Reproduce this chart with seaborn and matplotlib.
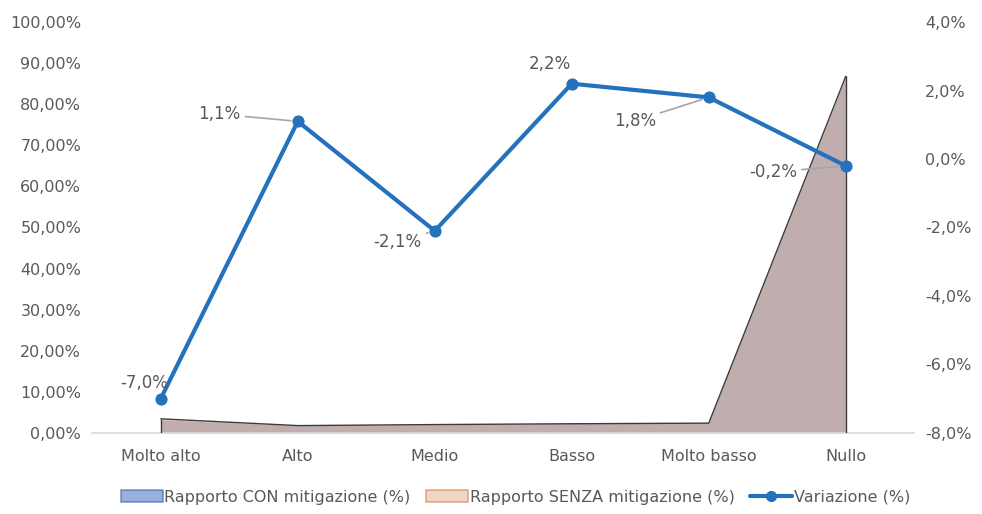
import matplotlib
matplotlib.use("Agg")
import matplotlib.pyplot as plt
from matplotlib.patches import Patch
from matplotlib.lines import Line2D
from matplotlib.ticker import FuncFormatter, MultipleLocator
import seaborn as sns
import pandas as pd
import numpy as np

# Data
categorie = ["Molto alto", "Alto", "Medio", "Basso", "Molto basso", "Nullo"]
rapporto_con = [3.16, 1.77, 1.96, 2.25, 2.39, 86.63]      # % (left axis)
rapporto_senza = [3.40, 1.75, 2.00, 2.20, 2.35, 86.80]    # % (left axis)
variazione = [-7.0, 1.1, -2.1, 2.2, 1.8, -0.2]            # % (right axis)

df = pd.DataFrame({
    "pos": np.arange(len(categorie)),
    "categoria": categorie,
    "con": rapporto_con,
    "senza": rapporto_senza,
    "var": variazione,
})

sns.set_theme(style="white")
plt.rcParams["font.family"] = ["DejaVu Sans"]

TXT = "#595959"
BLUE_LINE = "#2472bd"
CON_COL = "#4472c4"
SENZA_COL = "#e0a67e"

fig = plt.figure(figsize=(9.82, 5.14), dpi=100)
ax = fig.add_axes([0.094, 0.158, 0.837, 0.799])
ax2 = ax.twinx()

# Areas (left axis)
ax.fill_between(df["pos"], 0, df["con"], color=CON_COL, alpha=0.5, linewidth=0, zorder=1)
ax.fill_between(df["pos"], 0, df["senza"], color=SENZA_COL, alpha=0.5, linewidth=0, zorder=2)
sns.lineplot(x="pos", y="senza", data=df, ax=ax, color="#3a3a3a", linewidth=1.0, zorder=3)
ax.vlines([df["pos"].iloc[0], df["pos"].iloc[-1]], 0,
          [df["senza"].iloc[0], df["senza"].iloc[-1]], color="#3a3a3a", linewidth=1.0, zorder=3)

ax.set_xlim(-0.5, len(categorie) - 0.5)
ax.set_ylim(0, 100)
ax.yaxis.set_major_locator(MultipleLocator(10))
ax.yaxis.set_major_formatter(FuncFormatter(lambda v, p: f"{v:.2f}%".replace(".", ",")))
ax.set_xticks(df["pos"])
ax.set_xticklabels(categorie)
ax.set_xlabel("")
ax.set_ylabel("")

# Variation line (right axis)
sns.lineplot(x="pos", y="var", data=df, ax=ax2, color=BLUE_LINE, linewidth=3,
             marker="o", markersize=8, markeredgecolor=BLUE_LINE, zorder=5)
ax2.set_ylim(-8, 4)
ax2.yaxis.set_major_locator(MultipleLocator(2))
ax2.yaxis.set_major_formatter(FuncFormatter(lambda v, p: f"{v:.1f}%".replace(".", ",")))
ax2.set_ylabel("")
ax2.set_xlabel("")

for a in (ax, ax2):
    for s in a.spines.values():
        s.set_visible(False)
    a.tick_params(axis="both", length=0, colors=TXT, labelsize=11.5)
    a.grid(False)
ax.spines["bottom"].set_visible(True)
ax.spines["bottom"].set_color("#d9d9d9")
ax.spines["bottom"].set_linewidth(1.2)
ax.tick_params(axis="x", pad=12)
ax.tick_params(axis="y", pad=8)
ax2.tick_params(axis="y", pad=8)

# Data labels with leader lines
labels = [
    (0, (-0.12, -6.54), False),
    (1, (0.43, 1.31), True),
    (2, (1.73, -2.42), True),
    (3, (2.84, 2.77), False),
    (4, (3.46, 1.11), True),
    (5, (4.47, -0.38), True),
]
for i, (tx, ty), leader in labels:
    v = variazione[i]
    txt = f"{v:.1f}%".replace(".", ",")
    if leader:
        ax2.annotate(txt, xy=(i, v), xytext=(tx, ty), ha="center", va="center",
                     fontsize=12, color=TXT, zorder=6,
                     arrowprops=dict(arrowstyle="-", color="#a6a6a6", lw=1.2,
                                     shrinkA=1, shrinkB=5))
    else:
        ax2.text(tx, ty, txt, ha="center", va="center", fontsize=12, color=TXT, zorder=6)

# Legend
handles = [
    Patch(facecolor=CON_COL, alpha=0.55, edgecolor="#2f5597", linewidth=1.2),
    Patch(facecolor=SENZA_COL, alpha=0.45, edgecolor="#c55a11", linewidth=1.2),
    Line2D([0], [0], color=BLUE_LINE, linewidth=3, marker="o", markersize=7),
]
names = ["Rapporto CON mitigazione (%)", "Rapporto SENZA mitigazione (%)", "Variazione (%)"]
fig.legend(handles, names, loc="center", bbox_to_anchor=(0.525, 0.033), ncol=3,
           frameon=False, fontsize=11.5, labelcolor=TXT, handlelength=2.6,
           handletextpad=0.1, columnspacing=1.0)

fig.savefig("out.png", dpi=100, facecolor="white")
